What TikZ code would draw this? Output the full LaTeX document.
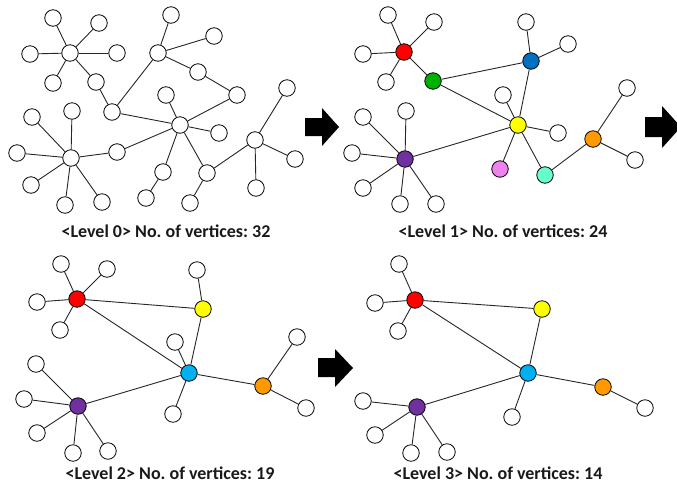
\documentclass[tikz,border=0pt]{standalone}
\usepackage{fontspec}
\setmainfont{Carlito}
\frenchspacing
\definecolor{cred}{RGB}{255,0,0}
\definecolor{cgreen}{RGB}{0,176,0}
\definecolor{cblue}{RGB}{0,112,192}
\definecolor{cyellow}{RGB}{255,255,0}
\definecolor{cpink}{RGB}{238,130,238}
\definecolor{cteal}{RGB}{102,255,204}
\definecolor{corange}{RGB}{255,153,0}
\definecolor{cpurple}{RGB}{112,48,160}
\definecolor{clblue}{RGB}{0,176,240}
\begin{document}
\begin{tikzpicture}[x=1pt,y=-1pt,
  v/.style={circle,draw=black,line width=0.8pt,fill=white,minimum size=16.5pt,inner sep=0pt},
  cv/.style={v,fill=#1},
  ed/.style={draw=black!85,line width=0.9pt},
  lbl/.style={font=\fontsize{18}{20}\selectfont\bfseries,text=black!90,inner sep=0pt},
  blk/.style={fill=black}]
\useasboundingbox (0,0) rectangle (677,483);
\clip (0,0) rectangle (677,483);
% ---------- Level 0 ----------
\node[v] (a) at (70,53) {};
\node[v] (a1) at (53,18) {};
\node[v] (a2) at (99,23) {};
\node[v] (a3) at (30,54) {};
\node[v] (a4) at (117,53) {};
\node[v] (a5) at (53,83) {};
\node[v] (a6) at (96,82) {};
\node[v] (b) at (112,112) {};
\node[v] (c) at (158,53) {};
\node[v] (c1) at (171,15) {};
\node[v] (c2) at (214,36) {};
\node[v] (c3) at (198,72) {};
\node[v] (c4) at (237,95) {};
\node[v] (d) at (180,125) {};
\node[v] (d1) at (166,95) {};
\node[v] (d2) at (219,133) {};
\node[v] (d3) at (163,172) {};
\node[v] (d4) at (146,198) {};
\node[v] (d5) at (207,173) {};
\node[v] (d6) at (190,203) {};
\node[v] (e) at (255,140) {};
\node[v] (e1) at (287,88) {};
\node[v] (e2) at (295,159) {};
\node[v] (e3) at (256,188) {};
\node[v] (g) at (117,152) {};
\node[v] (f) at (71,158) {};
\node[v] (f1) at (32,117) {};
\node[v] (f2) at (72,111) {};
\node[v] (f3) at (17,153) {};
\node[v] (f4) at (31,185) {};
\node[v] (f5) at (65,205) {};
\node[v] (f6) at (102,202) {};
\foreach \n in {a1,a2,a3,a4,a5,a6} \draw[ed] (a) -- (\n);
\draw[ed] (a6) -- (b);
\draw[ed] (b) -- (c);
\draw[ed] (b) -- (d);
\draw[ed] (c) -- (c1);
\draw[ed] (c) -- (c2);
\draw[ed] (c) -- (c3);
\draw[ed] (c3) -- (c4);
\draw[ed] (c4) -- (d);
\draw[ed] (d) -- (d1);
\draw[ed] (d) -- (d2);
\draw[ed] (d) -- (d3);
\draw[ed] (d3) -- (d4);
\draw[ed] (d) -- (d5);
\draw[ed] (d5) -- (d6);
\draw[ed] (d5) -- (e);
\foreach \n in {e1,e2,e3} \draw[ed] (e) -- (\n);
\draw[ed] (d) -- (g);
\draw[ed] (g) -- (f);
\foreach \n in {f1,f2,f3,f4,f5,f6} \draw[ed] (f) -- (\n);
\node[lbl] (l0) at (166,231) {<Level 0> No. of vertices: 32};
% ---------- Level 1 ----------
\node[cv=cred] (pr) at (404,52) {};
\node[v] (pr1) at (388,15) {};
\node[v] (pr2) at (434,22) {};
\node[v] (pr3) at (363,54) {};
\node[v] (pr4) at (386,82) {};
\node[cv=cgreen] (pg) at (433,81) {};
\node[cv=cblue] (pb) at (531,61) {};
\node[v] (pb1) at (526,22) {};
\node[v] (pb2) at (568,44) {};
\node[cv=cyellow] (py) at (518,125) {};
\node[v] (py1) at (503,95) {};
\node[v] (py2) at (558,133) {};
\node[cv=cpink] (pp) at (500,169) {};
\node[cv=cteal] (pt) at (545,175) {};
\node[cv=corange] (po) at (593,139) {};
\node[v] (po1) at (627,88) {};
\node[v] (po2) at (635,160) {};
\node[cv=cpurple] (pu) at (405,159) {};
\node[v] (pu1) at (363,117) {};
\node[v] (pu2) at (406,111) {};
\node[v] (pu3) at (352,153) {};
\node[v] (pu4) at (363,188) {};
\node[v] (pu5) at (400,204) {};
\node[v] (pu6) at (436,204) {};
\foreach \n in {pr1,pr2,pr3,pr4,pg} \draw[ed] (pr) -- (\n);
\draw[ed] (pg) -- (pb);
\draw[ed] (pg) -- (py);
\draw[ed] (pb) -- (py);
\draw[ed] (pb) -- (pb1);
\draw[ed] (pb) -- (pb2);
\foreach \n in {py1,py2,pp,pt,pu} \draw[ed] (py) -- (\n);
\draw[ed] (pt) -- (po);
\draw[ed] (po) -- (po1);
\draw[ed] (po) -- (po2);
\foreach \n in {pu1,pu2,pu3,pu4,pu5,pu6} \draw[ed] (pu) -- (\n);
\node[lbl] (l1) at (503,231) {<Level 1> No. of vertices: 24};
% ---------- Level 2 ----------
\node[cv=cred] (qr) at (77,299) {};
\node[v] (qr1) at (61,264) {};
\node[v] (qr2) at (107,269) {};
\node[v] (qr3) at (37,302) {};
\node[v] (qr4) at (60,330) {};
\node[cv=cyellow] (qy) at (203,309) {};
\node[v] (qy1) at (197,270) {};
\node[cv=clblue] (qb) at (189,373) {};
\node[v] (qb1) at (175,342) {};
\node[v] (qb2) at (173,414) {};
\node[cv=corange] (qo) at (263,386) {};
\node[v] (qo1) at (297,337) {};
\node[v] (qo2) at (306,408) {};
\node[cv=cpurple] (qu) at (78,406) {};
\node[v] (qu1) at (36,364) {};
\node[v] (qu2) at (24,399) {};
\node[v] (qu3) at (37,433) {};
\node[v] (qu4) at (73,453) {};
\node[v] (qu5) at (108,451) {};
\foreach \n in {qr1,qr2,qr3,qr4,qy,qb} \draw[ed] (qr) -- (\n);
\draw[ed] (qy) -- (qy1);
\draw[ed] (qy) -- (qb);
\foreach \n in {qb1,qb2,qo,qu} \draw[ed] (qb) -- (\n);
\draw[ed] (qo) -- (qo1);
\draw[ed] (qo) -- (qo2);
\foreach \n in {qu1,qu2,qu3,qu4,qu5} \draw[ed] (qu) -- (\n);
\node[lbl] (l2) at (170,473) {<Level 2> No. of vertices: 19};
% ---------- Level 3 ----------
\node[cv=cred] (sr) at (415,300) {};
\node[v] (sr1) at (399,264) {};
\node[v] (sr2) at (375,303) {};
\node[v] (sr3) at (398,331) {};
\node[cv=cyellow] (sy) at (542,309) {};
\node[cv=clblue] (sb) at (528,373) {};
\node[v] (sb1) at (512,417) {};
\node[cv=corange] (so) at (603,387) {};
\node[v] (so1) at (645,408) {};
\node[cv=cpurple] (su) at (417,407) {};
\node[v] (su1) at (363,401) {};
\node[v] (su2) at (375,435) {};
\node[v] (su3) at (411,453) {};
\node[v] (su4) at (447,452) {};
\foreach \n in {sr1,sr2,sr3,sy,sb} \draw[ed] (sr) -- (\n);
\draw[ed] (sy) -- (sb);
\foreach \n in {sb1,so,su} \draw[ed] (sb) -- (\n);
\draw[ed] (so) -- (so1);
\foreach \n in {su1,su2,su3,su4} \draw[ed] (su) -- (\n);
\node[lbl] (l3) at (498,473) {<Level 3> No. of vertices: 14};
% ---------- arrows ----------
\fill[blk] (305,118) -- (322,118) -- (322,108) -- (339,127) -- (322,146) -- (322,136) -- (305,136) -- cycle;
\fill[blk] (645,117) -- (662,117) -- (662,106) -- (681,127) -- (662,148) -- (662,137) -- (645,137) -- cycle;
\fill[blk] (318,358) -- (335,358) -- (335,349) -- (353,368) -- (335,387) -- (335,377) -- (318,377) -- cycle;
\end{tikzpicture}
\end{document}
